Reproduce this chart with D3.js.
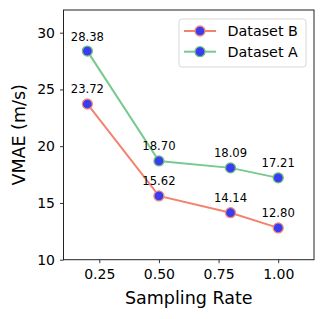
<!DOCTYPE html>
<html><head><meta charset="utf-8">
<script src="https://cdn.jsdelivr.net/npm/d3@7"></script>
<style>body{margin:0;background:#fff}svg{display:block;font-family:"DejaVu Sans",sans-serif}</style>
</head><body><svg id="c" width="325" height="319"></svg>
<script>
const samplingRates = [0.2, 0.5, 0.8, 1.0];
const datasetB = [23.72, 15.62, 14.14, 12.80];
const datasetA = [28.38, 18.70, 18.09, 17.21];
const xTicks = [0.25, 0.50, 0.75, 1.00];
const yTicks = [10, 15, 20, 25, 30];
const seriesNames = ["Dataset B", "Dataset A"];

const svg = d3.select("#c");
const L = 63.5, R = 314, T = 10, B = 259.7;
const x = d3.scaleLinear().domain([0.1, 1.15]).range([L, R]);
const y = d3.scaleLinear().domain([10, 32]).range([B, T]);

const series = [
  {name: seriesNames[0], vals: datasetB, line: "#f2836f", edge: "#f08a7a"},
  {name: seriesNames[1], vals: datasetA, line: "#78c98e", edge: "#6cc084"}
];

const xa = svg.append("g").attr("transform", `translate(0,${B})`)
  .call(d3.axisBottom(x).tickValues(xTicks).tickFormat(d3.format(".2f")).tickSizeOuter(0).tickSize(3.5).tickPadding(6));
const ya = svg.append("g").attr("transform", `translate(${L},0)`)
  .call(d3.axisLeft(y).tickValues(yTicks).tickFormat(d3.format("d")).tickSizeOuter(0).tickSize(3.5).tickPadding(5));
[xa, ya].forEach(a => {
  a.select(".domain").remove();
  a.selectAll("line").attr("stroke", "#000").attr("stroke-width", 0.8);
  a.selectAll("text").attr("font-size", 14).attr("fill", "#000").attr("font-family", "DejaVu Sans");
});

svg.append("rect").attr("x", L).attr("y", T).attr("width", R - L).attr("height", B - T)
  .attr("fill", "none").attr("stroke", "#222").attr("stroke-width", 1);

svg.append("text").attr("x", (L + R) / 2).attr("y", 304).attr("text-anchor", "middle")
  .attr("font-size", 17.5).text("Sampling Rate");
svg.append("text").attr("transform", `translate(25,${(T + B) / 2}) rotate(-90)`)
  .attr("text-anchor", "middle").attr("font-size", 17.5).text("VMAE (m/s)");

const line = d3.line().x((d, i) => x(samplingRates[i])).y(d => y(d));
series.forEach(s => {
  svg.append("path").datum(s.vals).attr("d", line).attr("fill", "none")
    .attr("stroke", s.line).attr("stroke-width", 2);
  svg.selectAll(null).data(s.vals).enter().append("circle")
    .attr("cx", (d, i) => x(samplingRates[i])).attr("cy", d => y(d)).attr("r", 5)
    .attr("fill", "#3b3bf0").attr("stroke", s.edge).attr("stroke-width", 1.3);
  svg.selectAll(null).data(s.vals).enter().append("text")
    .attr("x", (d, i) => x(samplingRates[i])).attr("y", d => y(d) - 10.5)
    .attr("text-anchor", "middle").attr("font-size", 11.6).text(d => d.toFixed(2));
});

// legend
const lg = svg.append("g");
lg.append("rect").attr("x", 179).attr("y", 19).attr("width", 127).attr("height", 48).attr("rx", 3)
  .attr("fill", "#fff").attr("fill-opacity", 0.8).attr("stroke", "#d8d8d8").attr("stroke-width", 1);
series.forEach((s, i) => {
  const yy = 31 + i * 20.7;
  lg.append("line").attr("x1", 184).attr("x2", 216).attr("y1", yy).attr("y2", yy)
    .attr("stroke", s.line).attr("stroke-width", 2);
  lg.append("circle").attr("cx", 200).attr("cy", yy).attr("r", 5)
    .attr("fill", "#3b3bf0").attr("stroke", s.edge).attr("stroke-width", 1.3);
  lg.append("text").attr("x", 227.5).attr("y", yy + 5).attr("font-size", 14.3).text(s.name);
});
</script></body></html>
